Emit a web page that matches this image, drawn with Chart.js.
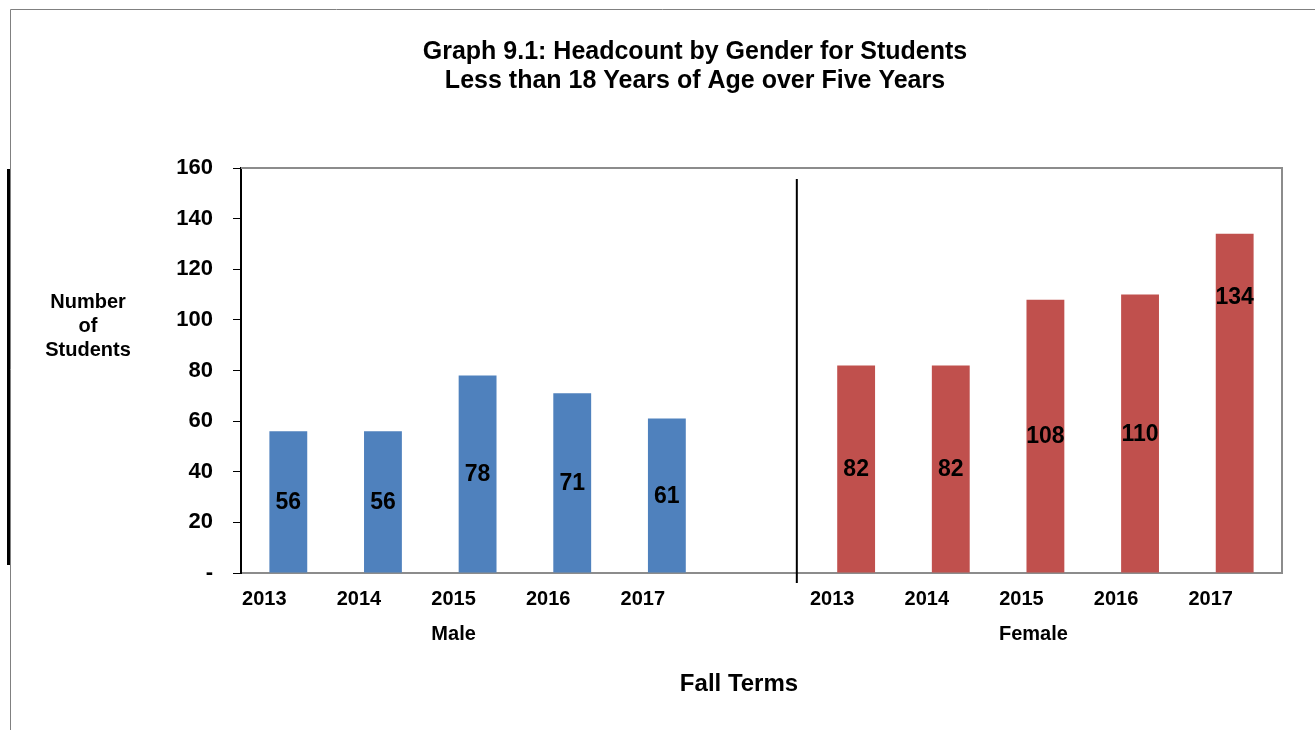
<!DOCTYPE html>
<html>
<head>
<meta charset="utf-8">
<title>Graph 9.1</title>
<script src="https://cdn.jsdelivr.net/npm/chart.js@4.4.1/dist/chart.umd.min.js"></script>
<style>
  html, body { margin: 0; padding: 0; background: #fff; }
  #wrap { width: 1315px; height: 730px; }
</style>
</head>
<body>
<div id="wrap"><canvas id="chart" width="1315" height="730"></canvas></div>
<script>
// Data
const years = ['2013', '2014', '2015', '2016', '2017'];
const groups = ['Male', 'Female'];
const maleValues = [56, 56, 78, 71, 61];
const femaleValues = [82, 82, 108, 110, 134];
const yTicks = [0, 20, 40, 60, 80, 100, 120, 140, 160];

const titleLines = ['Graph 9.1: Headcount by Gender for Students', 'Less than 18 Years of Age over Five Years'];
const yTitleLines = ['Number', 'of', 'Students'];
const xTitle = 'Fall Terms';

// male years, one empty slot, female years
const labels = [...years, '', ...years];
const gap = years.map(() => null);
const maleData = [...maleValues, null, ...gap];
const femaleData = [...gap, null, ...femaleValues];

const FONT = 'Arial, "Liberation Sans", sans-serif';

// frame, plot border, separator and all the free text
const decorations = {
    id: 'decorations',
    beforeDatasetsDraw(chart) {
        const { ctx, chartArea: a } = chart;
        ctx.save();
        ctx.strokeStyle = '#8c8c8c';
        ctx.lineWidth = 2;
        ctx.beginPath();
        ctx.moveTo(a.left, a.top);
        ctx.lineTo(a.right, a.top);
        ctx.lineTo(a.right, a.bottom);
        ctx.stroke();
        ctx.restore();
    },
    afterDraw(chart) {
        const { ctx, chartArea: a } = chart;
        const x = chart.scales.x;
        ctx.save();

        // outer frame
        ctx.strokeStyle = '#808080';
        ctx.lineWidth = 1;
        ctx.beginPath();
        ctx.moveTo(10.5, 730);
        ctx.lineTo(10.5, 9.5);
        ctx.lineTo(1315, 9.5);
        ctx.stroke();
        ctx.fillStyle = '#000';
        ctx.fillRect(7, 169, 3, 396);

        // separator between the groups
        const sep = (x.getPixelForValue(5) + x.getPixelForValue(6)) / 2 - 12;
        ctx.strokeStyle = '#000';
        ctx.lineWidth = 2;
        ctx.beginPath();
        ctx.moveTo(sep, a.top + 11);
        ctx.lineTo(sep, a.bottom + 10);
        ctx.stroke();

        ctx.fillStyle = '#000';
        ctx.textAlign = 'center';
        ctx.textBaseline = 'middle';

        // title
        ctx.font = 'bold 25px ' + FONT;
        titleLines.forEach((t, i) => ctx.fillText(t, 695, 52 + i * 29));

        // y title
        ctx.font = 'bold 20px ' + FONT;
        yTitleLines.forEach((t, i) => ctx.fillText(t, 88, 302 + i * 24));

        // group labels
        ctx.font = 'bold 20px ' + FONT;
        const maleMid = (x.getPixelForValue(0) + x.getPixelForValue(4)) / 2;
        const femaleMid = (x.getPixelForValue(6) + x.getPixelForValue(10)) / 2;
        ctx.fillText(groups[0], maleMid - 24, 634);
        ctx.fillText(groups[1], femaleMid - 12, 634);

        // x title
        ctx.font = 'bold 24px ' + FONT;
        ctx.fillText(xTitle, 739, 684);
        ctx.restore();
    }
};

// value labels inside the bars
const barValues = {
    id: 'barValues',
    afterDatasetsDraw(chart) {
        const { ctx } = chart;
        ctx.save();
        ctx.font = 'bold 23px ' + FONT;
        ctx.fillStyle = '#000';
        ctx.textAlign = 'center';
        ctx.textBaseline = 'middle';
        chart.data.datasets.forEach((ds, di) => {
            chart.getDatasetMeta(di).data.forEach((bar, i) => {
                const v = ds.data[i];
                if (v == null) return;
                let y = (bar.y + bar.base) / 2;
                if (di === 1 && i === 10) y = bar.y + 63; // this one sits high in the original
                ctx.fillText(String(v), bar.x, y + 1);
            });
        });
        ctx.restore();
    }
};

new Chart(document.getElementById('chart').getContext('2d'), {
    type: 'bar',
    data: {
        labels: labels,
        datasets: [{
            label: groups[0],
            data: maleData,
            backgroundColor: '#4F81BD',
            borderWidth: 0
        }, {
            label: groups[1],
            data: femaleData,
            backgroundColor: '#C0504D',
            borderWidth: 0
        }]
    },
    options: {
        responsive: false,
        animation: false,
        devicePixelRatio: 1,
        layout: { padding: { top: 168, right: 33, left: 0, bottom: 0 } },
        datasets: {
            bar: { grouped: false, barPercentage: 0.4, categoryPercentage: 1 }
        },
        plugins: {
            legend: { display: false },
            title: { display: false },
            tooltip: { enabled: false }
        },
        scales: {
            x: {
                grid: { display: false },
                border: { color: '#8c8c8c', width: 2 },
                ticks: {
                    color: '#000',
                    font: { family: FONT, size: 20, weight: 'bold' },
                    padding: 6,
                    labelOffset: -24,
                    autoSkip: false,
                    maxRotation: 0
                },
                afterFit(s) { s.height = 157; }
            },
            y: {
                min: 0,
                max: 160,
                afterBuildTicks(s) { s.ticks = yTicks.map(v => ({ value: v })); },
                grid: { drawOnChartArea: false, drawTicks: true, tickLength: 8, color: '#000' },
                border: { color: '#000', width: 2 },
                ticks: {
                    color: '#000',
                    font: { family: FONT, size: 22, weight: 'bold' },
                    padding: 20,
                    callback: v => v === 0 ? '-' : v
                },
                afterFit(s) { s.width = 241; }
            }
        }
    },
    plugins: [decorations, barValues]
});
</script>
</body>
</html>
